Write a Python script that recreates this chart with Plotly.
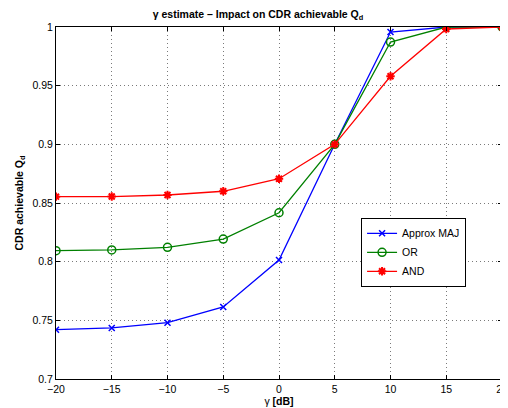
import plotly.graph_objects as go

gamma_db = [-20, -15, -10, -5, 0, 5, 10, 15, 20]
approx_maj = [0.742, 0.7435, 0.748, 0.7614, 0.8014, 0.900, 0.9957, 1.0, 1.0]
or_rule = [0.8094, 0.810, 0.8122, 0.8193, 0.8417, 0.900, 0.9872, 1.0, 1.0]
and_rule = [0.8554, 0.8555, 0.8568, 0.860, 0.8707, 0.900, 0.958, 0.9983, 1.0]

y_ticks = [0.7, 0.75, 0.8, 0.85, 0.9, 0.95, 1.0]
y_tick_text = ["0.7", "0.75", "0.8", "0.85", "0.9", "0.95", "1"]
x_ticks = [-20, -15, -10, -5, 0, 5, 10, 15, 20]

font = "Liberation Sans, Arial, Helvetica, sans-serif"

fig = go.Figure()
fig.add_trace(go.Scatter(x=gamma_db, y=approx_maj, name="Approx MAJ", mode="lines+markers",
                         line=dict(color="#0000ff", width=1.3),
                         marker=dict(symbol="x-thin-open", size=6, line=dict(color="#0000ff", width=1.5))))
fig.add_trace(go.Scatter(x=gamma_db, y=or_rule, name="OR", mode="lines+markers",
                         line=dict(color="#008000", width=1.3),
                         marker=dict(symbol="circle-open", size=8, color="#008000", line=dict(width=1.5))))
fig.add_trace(go.Scatter(x=gamma_db, y=and_rule, name="AND", mode="lines+markers",
                         line=dict(color="#ff0000", width=1.3),
                         marker=dict(symbol="asterisk-open", size=7, line=dict(color="#ff0000", width=2))))

axis_common = dict(showline=True, linecolor="black", linewidth=1, mirror="ticks",
                   ticks="inside", ticklen=4, tickcolor="black", automargin=False,
                   showgrid=True, gridcolor="#7a7a7a", griddash="1px,3px", gridwidth=1,
                   zeroline=False, tickfont=dict(family=font, size=10.5, color="black"))

# The page body has an 8px default margin, so the figure is 8px smaller
# in each dimension and its margins are shifted accordingly.
fig.update_layout(
    width=500, height=400,
    margin=dict(l=48, r=6, t=19, b=29, autoexpand=False),
    paper_bgcolor="white", plot_bgcolor="white",
    font=dict(family=font, size=11, color="black"),
    title=dict(text="<b>γ estimate – Impact on CDR achievable Q<sub>d</sub></b>",
               x=0.5, xanchor="center", y=0.985, yanchor="middle",
               font=dict(family=font, size=10.5, color="black")),
    xaxis=dict(range=[-20, 20], tickvals=x_ticks,
               title=dict(text="γ <b>[dB]</b>", font=dict(family=font, size=10.5), standoff=2),
               **axis_common),
    yaxis=dict(range=[0.7, 1.0], tickvals=y_ticks, ticktext=y_tick_text,
               title=dict(text="<b>CDR achievable Q<sub>d</sub></b>", font=dict(family=font, size=10.5), standoff=6),
               **axis_common),
    legend=dict(x=0.684, y=0.36, xanchor="left", yanchor="middle",
                bgcolor="white", bordercolor="black", borderwidth=1,
                font=dict(family=font, size=10.5, color="black"),
                tracegroupgap=0, itemwidth=30),
    showlegend=True,
)

fig.write_html("out.html")
